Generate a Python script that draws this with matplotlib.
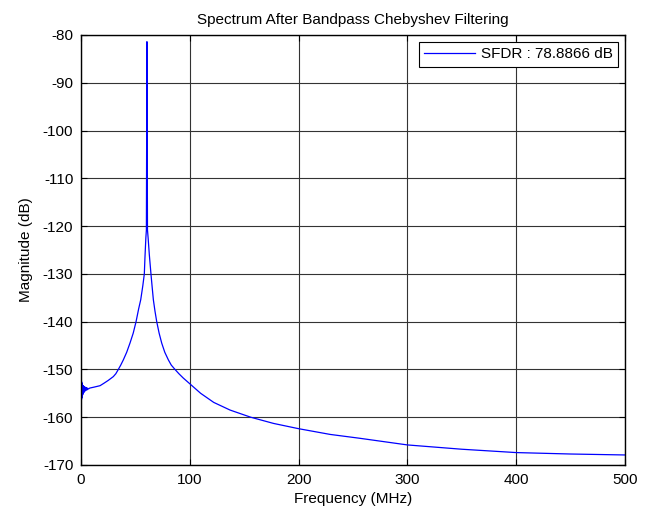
import matplotlib
matplotlib.use("Agg")
import matplotlib.pyplot as plt

plt.rcParams['font.family'] = ['Liberation Sans', 'DejaVu Sans']
plt.rcParams['axes.unicode_minus'] = False

# Data (frequency in MHz, magnitude in dB)
freq_mhz = [0.0, 0.15, 0.3, 0.45, 0.6, 0.75, 0.9, 1.05, 1.2, 1.35, 1.5, 1.7,
            1.9, 2.1, 2.4, 2.7, 3.0, 3.4, 3.8, 4.3, 4.8, 5.4, 6.0, 6.8, 8.0,
            12.0, 17.5, 21.0, 25.0, 29.7, 32.0, 34.3, 36.5, 38.9, 42.0, 45.0,
            48.0, 50.6, 53.0, 54.9, 56.8, 58.2, 58.8, 59.6, 60.1, 60.6, 61.1,
            61.7, 62.8, 64.3, 65.3, 66.5, 68.0, 69.6, 71.8, 74.2, 77.0, 80.3,
            83.0, 86.4, 90.0, 94.0, 100.0, 110.0, 122.0, 137.0, 156.0, 177.0,
            200.0, 229.0, 256.0, 300.0, 350.0, 400.0, 450.0, 500.0]
magnitude_db = [-151.8, -156.6, -152.2, -156.3, -152.6, -156.0, -152.9, -155.7,
                -153.1, -155.4, -153.3, -155.2, -153.4, -155.0, -153.5, -154.8,
                -153.6, -154.6, -153.7, -154.4, -153.8, -154.3, -153.9, -154.1,
                -153.9, -153.7, -153.4, -152.9, -152.3, -151.5, -150.9, -150.0,
                -149.1, -148.0, -146.4, -144.5, -142.4, -140.0, -137.3, -135.4,
                -132.5, -130.0, -126.5, -122.5, -120.8, -81.4, -120.8, -122.5,
                -126.0, -130.0, -132.5, -135.4, -137.8, -140.0, -142.4, -144.5,
                -146.4, -148.0, -149.1, -150.0, -150.9, -151.8, -153.0, -155.0,
                -156.9, -158.5, -160.0, -161.3, -162.4, -163.6, -164.4, -165.8,
                -166.7, -167.4, -167.7, -167.9]

x_ticks = [0, 100, 200, 300, 400, 500]
y_ticks = [-170, -160, -150, -140, -130, -120, -110, -100, -90, -80]
legend_label = "SFDR : 78.8866 dB"

FS = 11

fig = plt.figure(figsize=(6.53, 5.11), dpi=100)
ax = fig.add_axes([81/653, 46/511, 544/653, 430/511])

ax.plot(freq_mhz, magnitude_db, color='#0000FF', linewidth=0.9,
        solid_joinstyle='round', label=legend_label)

ax.set_xlim(0, 500)
ax.set_ylim(-170, -80)
ax.set_xticks(x_ticks)
ax.set_yticks(y_ticks)
ax.grid(True, color='0.2', linewidth=0.8, linestyle='-')
ax.set_axisbelow(True)
ax.tick_params(direction='in', top=True, right=True, labelsize=FS, length=4,
               width=0.8, pad=5.5)
for s in ax.spines.values():
    s.set_linewidth(1.0)
    s.set_color('black')

ax.set_title("Spectrum After Bandpass Chebyshev Filtering", fontsize=FS, pad=8)
ax.set_xlabel("Frequency (MHz)", fontsize=FS, labelpad=4)
ax.set_ylabel("Magnitude (dB)", fontsize=FS, labelpad=7)

leg = ax.legend(loc='upper right', fontsize=FS, fancybox=False, framealpha=1,
                edgecolor='black', borderpad=0.35, handlelength=3.3,
                handletextpad=0.4, borderaxespad=0.45)
leg.get_frame().set_linewidth(0.8)

fig.savefig("out.png", dpi=100)
